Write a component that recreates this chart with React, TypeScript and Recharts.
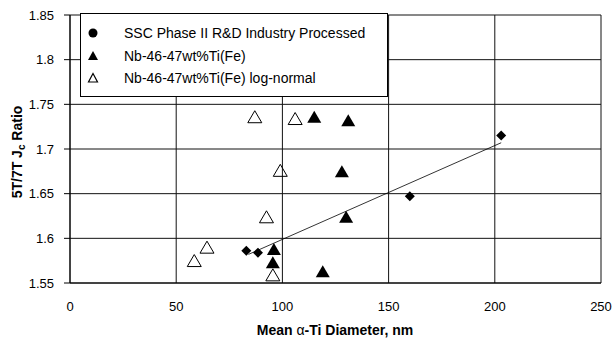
import { ScatterChart, Scatter, XAxis, YAxis, CartesianGrid } from 'recharts'

// Mean alpha-Ti diameter (nm) vs 5T/7T Jc ratio
const sscPoints = [
  { x: 83, y: 1.586 },
  { x: 88.5, y: 1.584 },
  { x: 160, y: 1.647 },
  { x: 203, y: 1.715 },
]
const nbPoints = [
  { x: 115, y: 1.735 },
  { x: 131, y: 1.731 },
  { x: 128, y: 1.674 },
  { x: 130, y: 1.623 },
  { x: 96, y: 1.587 },
  { x: 95.5, y: 1.572 },
  { x: 119, y: 1.562 },
]
const logNormalPoints = [
  { x: 87, y: 1.735 },
  { x: 106, y: 1.733 },
  { x: 99, y: 1.675 },
  { x: 92.5, y: 1.623 },
  { x: 95.5, y: 1.558 },
  { x: 58.5, y: 1.574 },
  { x: 64.5, y: 1.589 },
]
const trendLine = [
  { x: 84, y: 1.582 },
  { x: 203, y: 1.707 },
]
const xTicks = [0, 50, 100, 150, 200, 250]
const yTicks = [1.55, 1.6, 1.65, 1.7, 1.75, 1.8, 1.85]
const legendItems = [
  { label: 'SSC Phase II R&D Industry Processed', marker: 'circle' },
  { label: 'Nb-46-47wt%Ti(Fe)', marker: 'filled' },
  { label: 'Nb-46-47wt%Ti(Fe) log-normal', marker: 'open' },
]

const FONT = 'Liberation Sans, Arial, sans-serif'

const Diamond = (props: any) => {
  const { cx, cy } = props
  return <polygon points={`${cx},${cy - 5} ${cx + 5},${cy} ${cx},${cy + 5} ${cx - 5},${cy}`} fill="#000" />
}

const FilledTri = (props: any) => {
  const { cx, cy } = props
  return <polygon points={`${cx},${cy - 7} ${cx + 7},${cy + 5} ${cx - 7},${cy + 5}`} fill="#000" />
}

const OpenTri = (props: any) => {
  const { cx, cy } = props
  return (
    <polygon
      points={`${cx},${cy - 7} ${cx + 7},${cy + 5} ${cx - 7},${cy + 5}`}
      fill="none"
      stroke="#000"
      strokeWidth={1}
    />
  )
}

function LegendMarker({ type }: { type: string }) {
  return (
    <svg width={12} height={12} style={{ display: 'block' }}>
      {type === 'circle' && <circle cx={6} cy={6} r={4.5} fill="#000" />}
      {type === 'filled' && <polygon points="6,1 11,10 1,10" fill="#000" />}
      {type === 'open' && <polygon points="6,1.5 10.5,10 1.5,10" fill="none" stroke="#000" strokeWidth={1.2} />}
    </svg>
  )
}

export default function App() {
  return (
    <div style={{ position: 'absolute', left: 0, top: 0, width: 614, height: 345, background: '#fff' }}>
      <ScatterChart width={614} height={345} margin={{ top: 15, right: 13, bottom: 17, left: 0 }}>
        <CartesianGrid stroke="#111" strokeWidth={1} fill="#fff" />
        <XAxis
          type="number"
          dataKey="x"
          domain={[0, 250]}
          ticks={xTicks}
          interval={0}
          height={45}
          tickLine={false}
          tickMargin={13}
          axisLine={{ stroke: '#000' }}
          tick={{ fontSize: 13, fill: '#000', fontFamily: FONT }}
          label={{
            content: () => (
              <text x={335} y={335} textAnchor="middle" fontFamily={FONT} fontSize={14} fontWeight="bold" fill="#000">
                Mean <tspan fontWeight="normal"> α</tspan>-Ti Diameter, nm
              </text>
            ),
          }}
        />
        <YAxis
          type="number"
          dataKey="y"
          domain={[1.55, 1.85]}
          ticks={yTicks}
          interval={0}
          width={70}
          tickSize={6}
          tickMargin={10}
          tickLine={{ stroke: '#000' }}
          axisLine={{ stroke: '#000' }}
          tickFormatter={(v: number) => String(Number(v.toFixed(2)))}
          tick={{ fontSize: 13, fill: '#000', fontFamily: FONT }}
          label={{
            content: () => (
              <text
                x={22}
                y={152}
                transform="rotate(-90 22 152)"
                textAnchor="middle"
                fontFamily={FONT}
                fontSize={14}
                fontWeight="bold"
                fill="#000"
              >
                5T/7T J<tspan fontSize={10} dy={3}>c</tspan>
                <tspan dy={-3}> Ratio</tspan>
              </text>
            ),
          }}
        />
        <Scatter
          data={trendLine}
          line={{ stroke: '#000', strokeWidth: 0.8 }}
          shape={() => <g />}
          legendType="none"
          isAnimationActive={false}
        />
        <Scatter data={logNormalPoints} shape={OpenTri} isAnimationActive={false} />
        <Scatter data={sscPoints} shape={Diamond} isAnimationActive={false} />
        <Scatter data={nbPoints} shape={FilledTri} isAnimationActive={false} />
      </ScatterChart>
      <div
        style={{
          position: 'absolute',
          left: 80,
          top: 13,
          width: 306,
          height: 82,
          border: '1px solid #000',
          background: '#fff',
          fontFamily: FONT,
          fontSize: 14,
          color: '#000',
          boxSizing: 'content-box',
        }}
      >
        {legendItems.map((item, i) => (
          <div
            key={item.label}
            style={{ position: 'absolute', left: 6, top: 11 + i * 22.5, display: 'flex', alignItems: 'center', height: 16 }}
          >
            <LegendMarker type={item.marker} />
            <span style={{ marginLeft: 25, whiteSpace: 'nowrap' }}>{item.label}</span>
          </div>
        ))}
      </div>
    </div>
  )
}
